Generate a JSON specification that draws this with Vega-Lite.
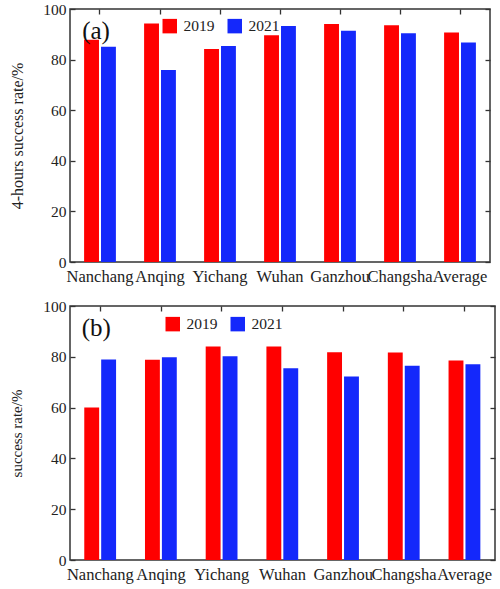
{
  "$schema": "https://vega.github.io/schema/vega-lite/v6.json",
  "padding": {"left": 9, "top": 1, "right": 5, "bottom": 5},
  "config": {
    "font": "Liberation Serif",
    "view": {"stroke": "#333333", "strokeWidth": 1.5},
    "axis": {
      "labelFont": "Liberation Serif",
      "titleFont": "Liberation Serif",
      "labelFontSize": 15.5,
      "titleFontSize": 15,
      "titleFontWeight": "normal",
      "labelColor": "#222222",
      "titleColor": "#222222",
      "grid": false,
      "domain": false,
      "tickColor": "#333333",
      "tickWidth": 1.3
    },
    "legend": {
      "labelFont": "Liberation Serif",
      "labelFontSize": 15.5,
      "labelColor": "#222222"
    }
  },
  "datasets": {
    "a": [
      {"city": "Nanchang", "year": "2019", "rate": 87.8},
      {"city": "Nanchang", "year": "2021", "rate": 85.1},
      {"city": "Anqing", "year": "2019", "rate": 94.3},
      {"city": "Anqing", "year": "2021", "rate": 75.9},
      {"city": "Yichang", "year": "2019", "rate": 84.2},
      {"city": "Yichang", "year": "2021", "rate": 85.4},
      {"city": "Wuhan", "year": "2019", "rate": 89.6},
      {"city": "Wuhan", "year": "2021", "rate": 93.3},
      {"city": "Ganzhou", "year": "2019", "rate": 94.1},
      {"city": "Ganzhou", "year": "2021", "rate": 91.4},
      {"city": "Changsha", "year": "2019", "rate": 93.6},
      {"city": "Changsha", "year": "2021", "rate": 90.4},
      {"city": "Average", "year": "2019", "rate": 90.7},
      {"city": "Average", "year": "2021", "rate": 86.8}
    ],
    "b": [
      {"city": "Nanchang", "year": "2019", "rate": 60.0},
      {"city": "Nanchang", "year": "2021", "rate": 78.9},
      {"city": "Anqing", "year": "2019", "rate": 78.8},
      {"city": "Anqing", "year": "2021", "rate": 79.8},
      {"city": "Yichang", "year": "2019", "rate": 84.1},
      {"city": "Yichang", "year": "2021", "rate": 80.2},
      {"city": "Wuhan", "year": "2019", "rate": 84.1},
      {"city": "Wuhan", "year": "2021", "rate": 75.5},
      {"city": "Ganzhou", "year": "2019", "rate": 81.8},
      {"city": "Ganzhou", "year": "2021", "rate": 72.2},
      {"city": "Changsha", "year": "2019", "rate": 81.7},
      {"city": "Changsha", "year": "2021", "rate": 76.5},
      {"city": "Average", "year": "2019", "rate": 78.5},
      {"city": "Average", "year": "2021", "rate": 77.1}
    ],
    "la": [{"city": "Nanchang", "v": 91.5, "label": "(a)"}],
    "lb": [{"city": "Nanchang", "v": 91.5, "label": "(b)"}]
  },
  "resolve": {"legend": {"color": "independent"}},
  "spacing": 12,
  "vconcat": [
    {
      "width": 420,
      "height": 253,
      "resolve": {"axis": {"x": "independent", "y": "independent"}},
      "layer": [
        {
          "data": {"name": "a"},
          "mark": {"type": "bar"},
          "encoding": {
            "x": {
              "field": "city", "type": "nominal",
              "sort": ["Nanchang", "Anqing", "Yichang", "Wuhan", "Ganzhou", "Changsha", "Average"],
              "scale": {"paddingInner": 0.47, "paddingOuter": 0.235},
              "axis": {"title": null, "labelAngle": 0, "ticks": false, "labelPadding": 6, "labelFontSize": 16.5, "labelFont": "Liberation Serif"}
            },
            "xOffset": {"field": "year", "type": "nominal", "scale": {"paddingInner": 0.12}},
            "y": {
              "field": "rate", "type": "quantitative",
              "scale": {"domain": [0, 100], "nice": false},
              "axis": {"title": "4-hours success rate/%", "titleFontSize": 16, "values": [0, 20, 40, 60, 80, 100], "tickSize": -5, "labelPadding": 9, "titlePadding": 17}
            },
            "color": {
              "field": "year", "type": "nominal",
              "scale": {"domain": ["2019", "2021"], "range": ["#ff0000", "#1428fb"]},
              "legend": {"title": null, "orient": "none", "legendX": 92, "legendY": 9, "direction": "horizontal", "symbolType": "square", "symbolSize": 210, "symbolStrokeWidth": 0, "symbolOpacity": 1, "columnPadding": 12, "labelOffset": 6, "labelFont": "Liberation Serif"}
            }
          }
        },
        {
          "data": {"name": "la"},
          "mark": {"type": "text", "fontSize": 25, "font": "Liberation Serif", "color": "#111111", "dx": -4},
          "encoding": {
            "x": {"field": "city", "type": "nominal", "sort": ["Nanchang", "Anqing", "Yichang", "Wuhan", "Ganzhou", "Changsha", "Average"], "axis": {"orient": "top", "title": null, "labels": false, "tickSize": -5}},
            "y": {"field": "v", "type": "quantitative", "axis": {"orient": "right", "title": null, "labels": false, "values": [0, 20, 40, 60, 80, 100], "tickSize": -5}},
            "text": {"field": "label"}
          }
        }
      ]
    },
    {
      "width": 425,
      "height": 254,
      "resolve": {"axis": {"x": "independent", "y": "independent"}},
      "layer": [
        {
          "data": {"name": "b"},
          "mark": {"type": "bar"},
          "encoding": {
            "x": {
              "field": "city", "type": "nominal",
              "sort": ["Nanchang", "Anqing", "Yichang", "Wuhan", "Ganzhou", "Changsha", "Average"],
              "scale": {"paddingInner": 0.47, "paddingOuter": 0.235},
              "axis": {"title": null, "labelAngle": 0, "ticks": false, "labelPadding": 6, "labelFontSize": 16.5, "labelFont": "Liberation Serif"}
            },
            "xOffset": {"field": "year", "type": "nominal", "scale": {"paddingInner": 0.12}},
            "y": {
              "field": "rate", "type": "quantitative",
              "scale": {"domain": [0, 100], "nice": false},
              "axis": {"title": "success rate/%", "values": [0, 20, 40, 60, 80, 100], "tickSize": -5, "labelPadding": 9, "titlePadding": 18}
            },
            "color": {
              "field": "year", "type": "nominal",
              "scale": {"domain": ["2019", "2021"], "range": ["#ff0000", "#1428fb"]},
              "legend": {"title": null, "orient": "none", "legendX": 95, "legendY": 10, "direction": "horizontal", "symbolType": "square", "symbolSize": 210, "symbolStrokeWidth": 0, "symbolOpacity": 1, "columnPadding": 12, "labelOffset": 6, "labelFont": "Liberation Serif"}
            }
          }
        },
        {
          "data": {"name": "lb"},
          "mark": {"type": "text", "fontSize": 25, "font": "Liberation Serif", "color": "#111111", "dx": -4},
          "encoding": {
            "x": {"field": "city", "type": "nominal", "sort": ["Nanchang", "Anqing", "Yichang", "Wuhan", "Ganzhou", "Changsha", "Average"], "axis": {"orient": "top", "title": null, "labels": false, "tickSize": -5}},
            "y": {"field": "v", "type": "quantitative", "axis": {"orient": "right", "title": null, "labels": false, "values": [0, 20, 40, 60, 80, 100], "tickSize": -5}},
            "text": {"field": "label"}
          }
        }
      ]
    }
  ]
}
